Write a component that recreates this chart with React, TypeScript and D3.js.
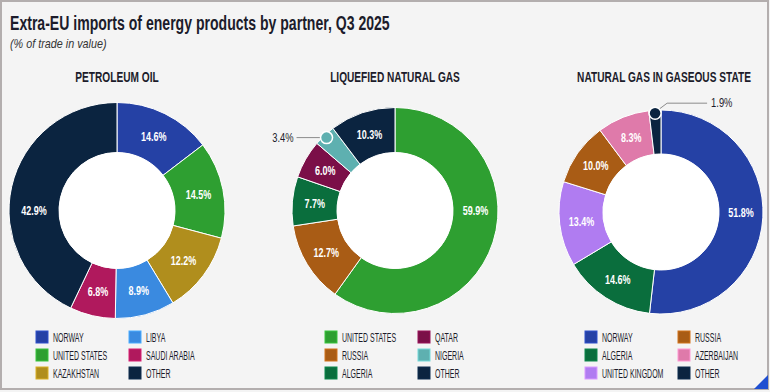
import React, { useEffect } from 'react';
import * as d3 from 'd3';

const petroleumPartners = ['NORWAY', 'UNITED STATES', 'KAZAKHSTAN', 'LIBYA', 'SAUDI ARABIA', 'OTHER'];
const petroleumShares = [14.6, 14.5, 12.2, 8.9, 6.8, 42.9];

const lngPartners = ['UNITED STATES', 'RUSSIA', 'ALGERIA', 'QATAR', 'NIGERIA', 'OTHER'];
const lngShares = [59.9, 12.7, 7.7, 6.0, 3.4, 10.3];

const gasPartners = ['NORWAY', 'ALGERIA', 'UNITED KINGDOM', 'RUSSIA', 'AZERBAIJAN', 'OTHER'];
const gasShares = [51.8, 14.6, 13.4, 10.0, 8.3, 1.9];

const partnerColors: Record<string, string> = {
  'NORWAY': '#2541a5',
  'UNITED STATES': '#2e9f31',
  'KAZAKHSTAN': '#b08e1d',
  'LIBYA': '#3a8ae0',
  'SAUDI ARABIA': '#b0195d',
  'OTHER': '#0b2440',
  'RUSSIA': '#a95c15',
  'ALGERIA': '#0a6e3d',
  'QATAR': '#7b0f48',
  'NIGERIA': '#5eb0b0',
  'UNITED KINGDOM': '#b07cf1',
  'AZERBAIJAN': '#df7aaa',
};

const W = 770;
const H = 392;
const FONT = "'Liberation Sans', Arial, sans-serif";
const INK = '#1c1c2b';

// condensed text: the reference uses a narrow face, so squeeze a regular one horizontally
function T({ x, y, size, sx, anchor = 'start', weight = 'normal', italic = false, fill = INK, children }: any) {
  return (
    <text
      transform={`translate(${x},${y}) scale(${sx},1)`}
      textAnchor={anchor}
      fontFamily={FONT}
      fontSize={size}
      fontWeight={weight}
      fontStyle={italic ? 'italic' : 'normal'}
      fill={fill}
    >
      {children}
    </text>
  );
}

type DonutProps = {
  title: string;
  partners: string[];
  shares: number[];
  cx: number;
  cy: number;
  r: number;
  titleX: number;
  legendX: number;
};

function Donut({ title, partners, shares, cx, cy, r, titleX, legendX }: DonutProps) {
  const inner = 58;
  const pie = d3.pie<number>().sort(null).value(d => d)(shares);
  const arc = d3.arc<d3.PieArcDatum<number>>().innerRadius(inner).outerRadius(r);
  const mid = (inner + r) / 2;

  return (
    <g>
      <T x={titleX} y={82} anchor="middle" weight="bold" size={14.5} sx={0.7}>{title}</T>
      <g transform={`translate(${cx},${cy})`}>
        {pie.map((p, i) => (
          <path key={partners[i]} d={arc(p) || ''} fill={partnerColors[partners[i]]} stroke="#ffffff" strokeWidth={1} />
        ))}
        <circle r={inner} fill="#ffffff" />
        {pie.map((p, i) => {
          const a = (p.startAngle + p.endAngle) / 2;
          const v = shares[i];
          if (v < 4) {
            // small slice: callout with dot and leader line
            const px = Math.sin(a) * (r - 3);
            const py = -Math.cos(a) * (r - 3);
            const left = Math.sin(a) < -0.3;
            if (left) {
              return (
                <g key={'l' + i}>
                  <line x1={px - 6} y1={py} x2={px - 30} y2={py} stroke="#8c8c8c" strokeWidth={1} />
                  <circle cx={px} cy={py} r={6} fill={partnerColors[partners[i]]} stroke="#ffffff" strokeWidth={1.5} />
                  <T x={px - 33} y={py + 4} anchor="end" size={12.5} sx={0.75}>{v.toFixed(1)}%</T>
                </g>
              );
            }
            return (
              <g key={'l' + i}>
                <polyline
                  points={`${px + 4},${py - 4} ${px + 12},${py - 10} ${px + 52},${py - 10}`}
                  fill="none" stroke="#8c8c8c" strokeWidth={1}
                />
                <circle cx={px} cy={py} r={6} fill={partnerColors[partners[i]]} stroke="#ffffff" strokeWidth={1.5} />
                <T x={px + 56} y={py - 6} size={12.5} sx={0.75}>{v.toFixed(1)}%</T>
              </g>
            );
          }
          let lx = Math.sin(a) * mid;
          let ly = -Math.cos(a) * mid;
          if (v > 40) {
            // large slices: label sits on the horizontal axis
            lx = Math.sign(lx) * mid;
            ly = 0;
          }
          return (
            <T key={'l' + i} x={lx} y={ly + 4.5} anchor="middle" weight="bold" size={12.5} sx={0.72} fill="#ffffff">
              {v.toFixed(1)}%
            </T>
          );
        })}
      </g>
      <g>
        {partners.map((name, i) => {
          const col = Math.floor(i / 3);
          const row = i % 3;
          const x = legendX + col * 93;
          const y = 331 + row * 18;
          return (
            <g key={'lg' + name}>
              <rect x={x} y={y} width={12} height={12} fill={partnerColors[name]} stroke={d3.color(partnerColors[name])!.brighter(0.6).formatHex()} strokeWidth={1} />
              <T x={x + 17} y={y + 10.5} size={12.5} sx={0.56}>{name}</T>
            </g>
          );
        })}
      </g>
    </g>
  );
}

export default function App() {
  useEffect(() => {
    document.body.style.margin = '0';
  }, []);

  return (
    <svg width={W} height={H} style={{ display: 'block' }}>
      <rect x={0} y={0} width={W} height={H} fill="#f4f4f4" />
      <rect x={1} y={1} width={767} height={388} fill="#f4f4f4" stroke="#b3aeae" strokeWidth={2} />
      <path d="M754,389 L768,389 L768,375 Z" fill="#1f4fd1" />
      <T x={10} y={30} weight="bold" size={21} sx={0.67}>
        Extra-EU imports of energy products by partner, Q3 2025
      </T>
      <T x={10} y={48} italic size={12} sx={0.9} fill="#333333">
        (% of trade in value)
      </T>
      <Donut title="PETROLEUM OIL" partners={petroleumPartners} shares={petroleumShares}
        cx={117} cy={210.5} r={108} titleX={117} legendX={36} />
      <Donut title="LIQUEFIED NATURAL GAS" partners={lngPartners} shares={lngShares}
        cx={395} cy={210.5} r={103} titleX={395} legendX={325} />
      <Donut title="NATURAL GAS IN GASEOUS STATE" partners={gasPartners} shares={gasShares}
        cx={661} cy={212} r={102} titleX={664} legendX={585} />
    </svg>
  );
}
